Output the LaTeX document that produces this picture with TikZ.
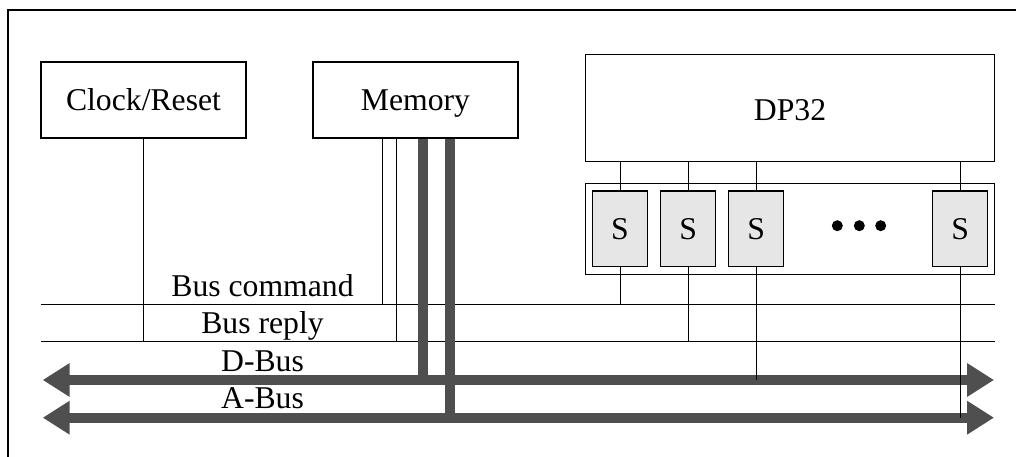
\documentclass[tikz,border=0pt]{standalone}
\usepackage{fontspec}
\setmainfont{Liberation Serif}
\usetikzlibrary{arrows.meta}
\definecolor{busgray}{HTML}{4F4F4F}
\definecolor{regfill}{HTML}{E6E6E6}
\begin{document}
\begin{tikzpicture}[x=1pt,y=-1pt,
  font=\fontsize{31.7}{38}\selectfont,
  wire/.style={draw=black,line width=1pt},
  frameline/.style={draw=black,line width=1.4pt},
  unit/.style={draw=black,line width=1.1pt,fill=white,inner sep=0pt,
    text height=21pt,text depth=0pt},
  regbox/.style={unit,fill=regfill},
  buslabel/.style={anchor=base,inner sep=0pt},
  bus/.style={draw=busgray,line width=10pt,
    {Triangle[length=27pt 0 0,width=32pt 0 0]}-{Triangle[length=27pt 0 0,width=32pt 0 0]}},
  tap/.style={draw=busgray,line width=10pt},
  dot/.style={circle,fill=black,inner sep=0pt,minimum size=11pt}]
\useasboundingbox (0,0) rectangle (1016,457);

% outer frame (top and left edges)
\draw[frameline] (8,457) -- (8,10) -- (1016,10);

% top-level blocks
\node[unit,minimum width=205pt,minimum height=76pt] (clk) at (143.5,100) {Clock/Reset};
\node[unit,minimum width=205pt,minimum height=76pt] (mem) at (415.5,100) {Memory};
\node[unit,minimum width=408.6pt,minimum height=106.7pt,text height=24.8pt] (dp) at (790,108.3) {DP32};

% register row
\node[unit,minimum width=408.6pt,minimum height=90.7pt] (regs) at (790,228.7) {};
\node[regbox,minimum width=55pt,minimum height=75.7pt] (s1) at (620,228.8) {S};
\node[regbox,minimum width=55pt,minimum height=75.7pt] (s2) at (688.2,228.8) {S};
\node[regbox,minimum width=55pt,minimum height=75.7pt] (s3) at (756.2,228.8) {S};
\node[regbox,minimum width=55pt,minimum height=75.7pt] (s4) at (960.2,228.8) {S};
\node[dot] (d1) at (837.3,225.7) {};
\node[dot] (d2) at (859.3,225.7) {};
\node[dot] (d3) at (880.7,225.7) {};

% bus end points
\coordinate (cmdL) at (41,304);   \coordinate (cmdR) at (995,304);
\coordinate (repL) at (41,341.7); \coordinate (repR) at (995,341.7);
\coordinate (dbL) at (42.7,380);  \coordinate (dbR) at (994,380);
\coordinate (abL) at (42.7,417.7);\coordinate (abR) at (994,417.7);

% bus lines
\draw[wire] (cmdL) -- (cmdR);
\draw[wire] (repL) -- (repR);
\draw[bus] (dbL) -- (dbR);
\draw[bus] (abL) -- (abR);

% bus labels
\node[buslabel] (lcmd) at (262.5,296.7) {Bus command};
\node[buslabel] (lrep) at (262.5,333.3) {Bus reply};
\node[buslabel] (ldb) at (262.5,371) {D-Bus};
\node[buslabel] (lab) at (262.5,408) {A-Bus};

% clock/reset and memory control connections
\draw[wire] (clk.south) -- (clk.south |- repL);
\draw[wire] (mem.south -| 382,0) -- (382,0 |- cmdL);
\draw[wire] (mem.south -| 396,0) -- (396,0 |- repL);

% DP32 to registers
\foreach \s in {s1,s2,s3,s4}
  \draw[wire] (dp.south -| \s) -- (\s.north);

% registers to buses
\draw[wire] (s1.south) -- (s1.south |- cmdL);
\draw[wire] (s2.south) -- (s2.south |- repL);
\draw[wire] (s3.south) -- (s3.south |- dbL);
\draw[wire] (s4.south) -- (s4.south |- abL);

% memory data and address paths
\draw[tap] (mem.south -| 423.3,0) -- (423.3,0 |- dbL);
\draw[tap] (mem.south -| 450,0) -- ([yshift=4pt]450,0 |- abL);
\end{tikzpicture}
\end{document}
